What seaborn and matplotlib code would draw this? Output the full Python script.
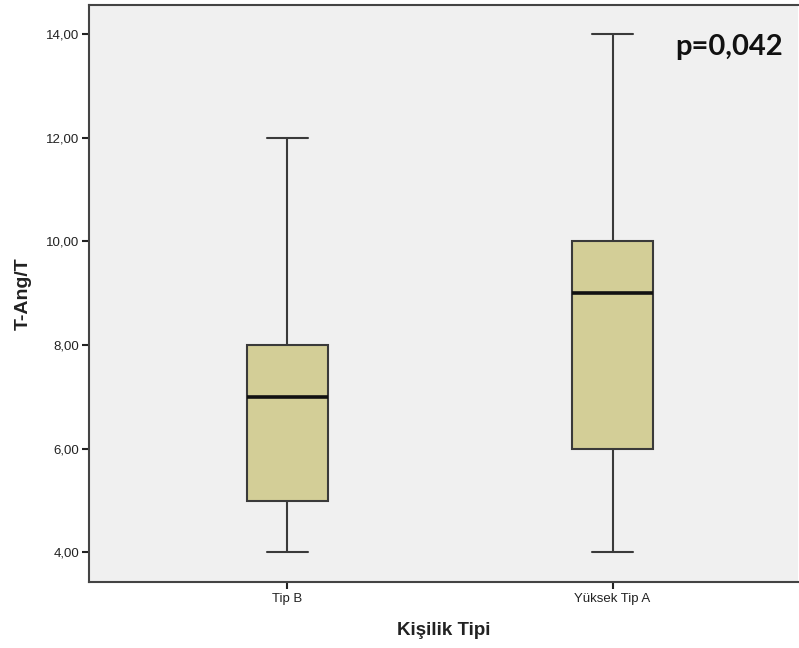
import matplotlib
matplotlib.use("Agg")
import matplotlib.pyplot as plt
import seaborn as sns
import pandas as pd

categories = ["Tip B", "Yüksek Tip A"]
tip_b_values = [4, 5, 5, 6, 7, 7, 8, 8, 12]
tip_a_values = [4, 6, 6, 8, 9, 9, 10, 10, 14]
yticks = [4, 6, 8, 10, 12, 14]
ytick_labels = ["4,00", "6,00", "8,00", "10,00", "12,00", "14,00"]
p_text = "p=0,042"

df = pd.DataFrame({
    "group": [categories[0]] * len(tip_b_values) + [categories[1]] * len(tip_a_values),
    "value": tip_b_values + tip_a_values,
})

sns.set_style("ticks")
plt.rcParams['font.family'] = ['Liberation Sans', 'DejaVu Sans']

fig = plt.figure(figsize=(7.99, 6.48), dpi=100)
ax = fig.add_axes([89/799, 1 - 582/648, (798 - 89)/799, (582 - 5)/648])
ax.set_facecolor("#F0F0F0")

edge = "#3a3a3a"
sns.boxplot(data=df, x="group", y="value", order=categories, ax=ax,
            width=0.25, color="#D3CE97", saturation=1, whis=1.5,
            linewidth=1.5, linecolor=edge,
            medianprops=dict(color="#111111", linewidth=2.6),
            whiskerprops=dict(color=edge, linewidth=1.5),
            capprops=dict(color=edge, linewidth=1.5),
            boxprops=dict(edgecolor=edge, facecolor="#D3CE97", linewidth=1.5),
            showfliers=False)

ax.set_xlim(-0.61, 1.57)
ax.set_ylim(3.43, 14.56)
ax.set_yticks(yticks)
ax.set_yticklabels(ytick_labels, fontsize=9.5, color="#222222")
ax.tick_params(axis="x", labelsize=9.5, colors="#222222", length=5, width=1.5, pad=3)
ax.tick_params(axis="y", length=5, width=1.5, colors="#222222", pad=2)
for lab in ax.get_xticklabels():
    lab.set_color("#222222")

for s in ["left", "bottom", "top"]:
    ax.spines[s].set_visible(True)
    ax.spines[s].set_color("#444444")
    ax.spines[s].set_linewidth(1.5)
ax.spines["right"].set_visible(False)

ax.set_xlabel("Kişilik Tipi", fontsize=13.5, fontweight="bold", color="#222222", labelpad=12)
ax.set_ylabel("T-Ang/T", fontsize=14, fontweight="bold", color="#222222", labelpad=10)

ax.text(0.979, 0.927, p_text, transform=ax.transAxes, ha="right", va="center",
        fontsize=21, fontweight="bold", family=["Lato", "DejaVu Sans"], color="#111111")

fig.savefig("out.png", dpi=100)
